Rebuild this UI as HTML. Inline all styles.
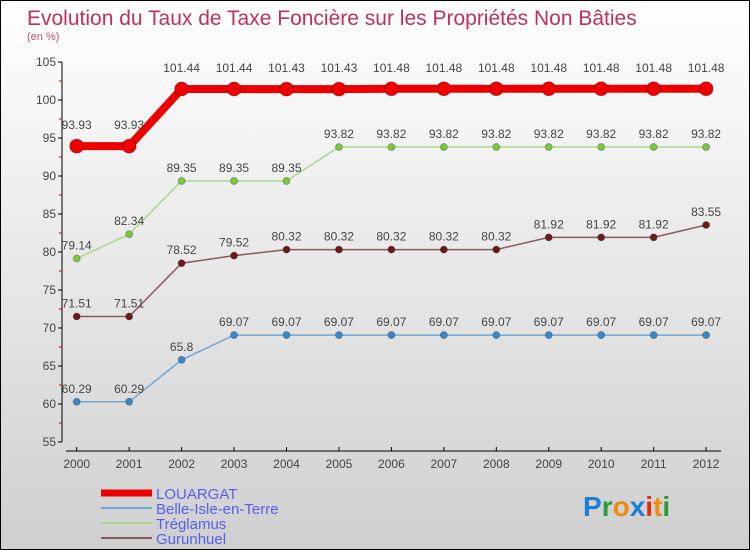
<!DOCTYPE html>
<html><head><meta charset="utf-8"><style>
body{margin:0}
#c{width:750px;height:550px;position:relative;box-sizing:border-box;border:1px solid #000;background:linear-gradient(#fff,#cfcfcf);font-family:"Liberation Sans",sans-serif;overflow:hidden}
</style></head><body>
<div id="c">
<svg width="750" height="550" style="position:absolute;left:0;top:0">
<text x="26" y="24" font-size="21" fill="#c0305a">Evolution du Taux de Taxe Foncière sur les Propriétés Non Bâties</text>
<text x="26" y="39" font-size="11" fill="#c0507a">(en %)</text>
<g id="axes"></g><g id="series"></g><g id="legend"></g>
<text x="582" y="515" font-size="28" font-weight="bold"><tspan fill="#1a7fd6">P</tspan><tspan fill="#2a9a3a">r</tspan><tspan fill="#f08a10">o</tspan><tspan fill="#1a7fd6">x</tspan><tspan fill="#e03010">i</tspan><tspan fill="#f08a10">t</tspan><tspan fill="#2a9a3a">i</tspan></text>
</svg>
</div>
<script>
const years=[2000,2001,2002,2003,2004,2005,2006,2007,2008,2009,2010,2011,2012];
const yTicks=[55,60,65,70,75,80,85,90,95,100,105];
const louargat=[93.93,93.93,101.44,101.44,101.43,101.43,101.48,101.48,101.48,101.48,101.48,101.48,101.48];
const belle=[60.29,60.29,65.8,69.07,69.07,69.07,69.07,69.07,69.07,69.07,69.07,69.07,69.07];
const treglamus=[79.14,82.34,89.35,89.35,89.35,93.82,93.82,93.82,93.82,93.82,93.82,93.82,93.82];
const gurunhuel=[71.51,71.51,78.52,79.52,80.32,80.32,80.32,80.32,80.32,81.92,81.92,81.92,83.55];
const NS="http://www.w3.org/2000/svg";
const xS=i=>75.7+i*52.45, yS=v=>61+(105-v)*7.6;
function mk(p,t,a){const e=document.createElementNS(NS,t);for(const k in a)e.setAttribute(k,a[k]);p.appendChild(e);return e;}
const ax=document.getElementById('axes');
let l=mk(ax,'line',{x1:61,y1:61,x2:61,y2:441,stroke:'#000'});


l=mk(ax,'line',{x1:65,y1:450,x2:720,y2:450,stroke:'#000'});


yTicks.forEach(v=>{const y=yS(v);mk(ax,'line',{x1:57,y1:y,x2:61,y2:y,stroke:'#000'});
mk(ax,'line',{x1:58,y1:y-19,x2:61,y2:y-19,stroke:v<105?'#d00':'none'});
const t=mk(ax,'text',{x:55,y:y+4,'font-size':12,'text-anchor':'end',fill:'#444'});t.textContent=v;

});
years.forEach((yr,i)=>{const x=xS(i);mk(ax,'line',{x1:x,y1:446,x2:x,y2:450,stroke:'#000'});
const t=mk(ax,'text',{x:x,y:467,'font-size':12,'text-anchor':'middle',fill:'#444'});t.textContent=yr;

});
const sg=document.getElementById('series');
const series=[
{name:'Gurunhuel',d:gurunhuel,c:'#8b5a5a',m:'#6b1a1a',w:1.5,r:3.5},
{name:'Belle-Isle-en-Terre',d:belle,c:'#6fa8d8',m:'#3a88c8',w:1.5,r:3.5},
{name:'Tréglamus',d:treglamus,c:'#a8d890',m:'#7ac840',w:1.5,r:3.5},
{name:'LOUARGAT',d:louargat,c:'#ee0000',m:'#ee0000',w:8,r:7}];
series.forEach(s=>{
const g=mk(sg,'g',{});


const p=mk(g,'polyline',{points:s.d.map((v,i)=>xS(i)+','+yS(v)).join(' '),fill:'none',stroke:s.c,'stroke-width':s.w});
s.d.forEach((v,i)=>{const c=mk(g,'circle',{cx:xS(i),cy:yS(v),r:s.r,fill:s.m,stroke:'rgba(0,0,0,0.3)','stroke-width':0.8});


const t=mk(g,'text',{x:xS(i),y:yS(v)-(s.w>4?17:9),'font-size':12,'text-anchor':'middle',fill:'#444'});t.textContent=v;

});
});
const lg=document.getElementById('legend');
const leg=[['LOUARGAT','#ee0000',7],['Belle-Isle-en-Terre','#6fa8d8',2],['Tréglamus','#a8d890',2],['Gurunhuel','#8b5a5a',2]];
leg.forEach((e,i)=>{const y=492+i*15;
const g=mk(lg,'g',{});


mk(g,'line',{x1:100,y1:y,x2:151,y2:y,stroke:e[1],'stroke-width':e[2]});
const t=mk(g,'text',{x:155,y:y+6,'font-size':15,fill:'#5560ee'});t.textContent=e[0];});
</script>
</body></html>
